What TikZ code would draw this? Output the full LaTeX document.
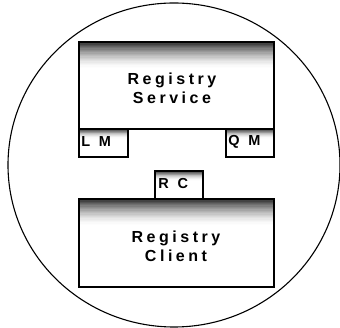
\documentclass[tikz,border=0pt]{standalone}
\usepackage{fontspec}
\setmainfont{Liberation Sans}
\newfontfamily\spacedfont[LetterSpace=22]{Liberation Sans}
\newfontfamily\widefont[LetterSpace=60]{Liberation Sans}
\begin{document}
\begin{tikzpicture}[x=1pt,y=-1pt,
  box/.style={draw=black, line width=1.5pt, fill=white, inner sep=0pt,
    path picture={
      \foreach \i in {0,...,19}{
        \pgfmathsetmacro{\lev}{80*(1-\i/20)^1.6}
        \fill[black!\lev] ([yshift=-\i*#1/20]path picture bounding box.north west)
          rectangle ([yshift=-(\i+1)*#1/20-0.3pt]path picture bounding box.north east);
      }}},
  box/.default=22pt,
  bigtext/.style={font=\spacedfont\bfseries\fontsize{16}{19}\selectfont, align=center, inner sep=0pt},
  smalltext/.style={font=\widefont\bfseries\fontsize{14.5}{16}\selectfont, inner sep=0pt, anchor=west}
  ]
  \useasboundingbox (0,0) rectangle (340,328);
  \draw[line width=1.1pt] (174,165) ellipse [x radius=166pt, y radius=162pt];
  \node[box=26pt, minimum width=195pt, minimum height=87pt] (service) at (176.5,85.5) {};
  \node[box=9pt, minimum width=49pt, minimum height=28pt] (lm) at (103.5,143) {};
  \node[box=9pt, minimum width=48pt, minimum height=28pt] (qm) at (250,143) {};
  \node[box=9pt, minimum width=48pt, minimum height=28pt] (rc) at (179,185) {};
  \node[box=26pt, minimum width=195pt, minimum height=88pt] (client) at (176.5,243) {};
  \node[bigtext] (servicetext) at (172,88.5) {Registry\\Service};
  \node[bigtext] (clienttext) at (176,246) {Registry\\Client};
  \node[smalltext] (lmtext) at ([xshift=3pt,yshift=1pt]lm.west) {LM};
  \node[smalltext] (qmtext) at ([xshift=3pt,yshift=1pt]qm.west) {QM};
  \node[smalltext] (rctext) at ([xshift=4pt,yshift=1pt]rc.west) {RC};
\end{tikzpicture}
\end{document}
